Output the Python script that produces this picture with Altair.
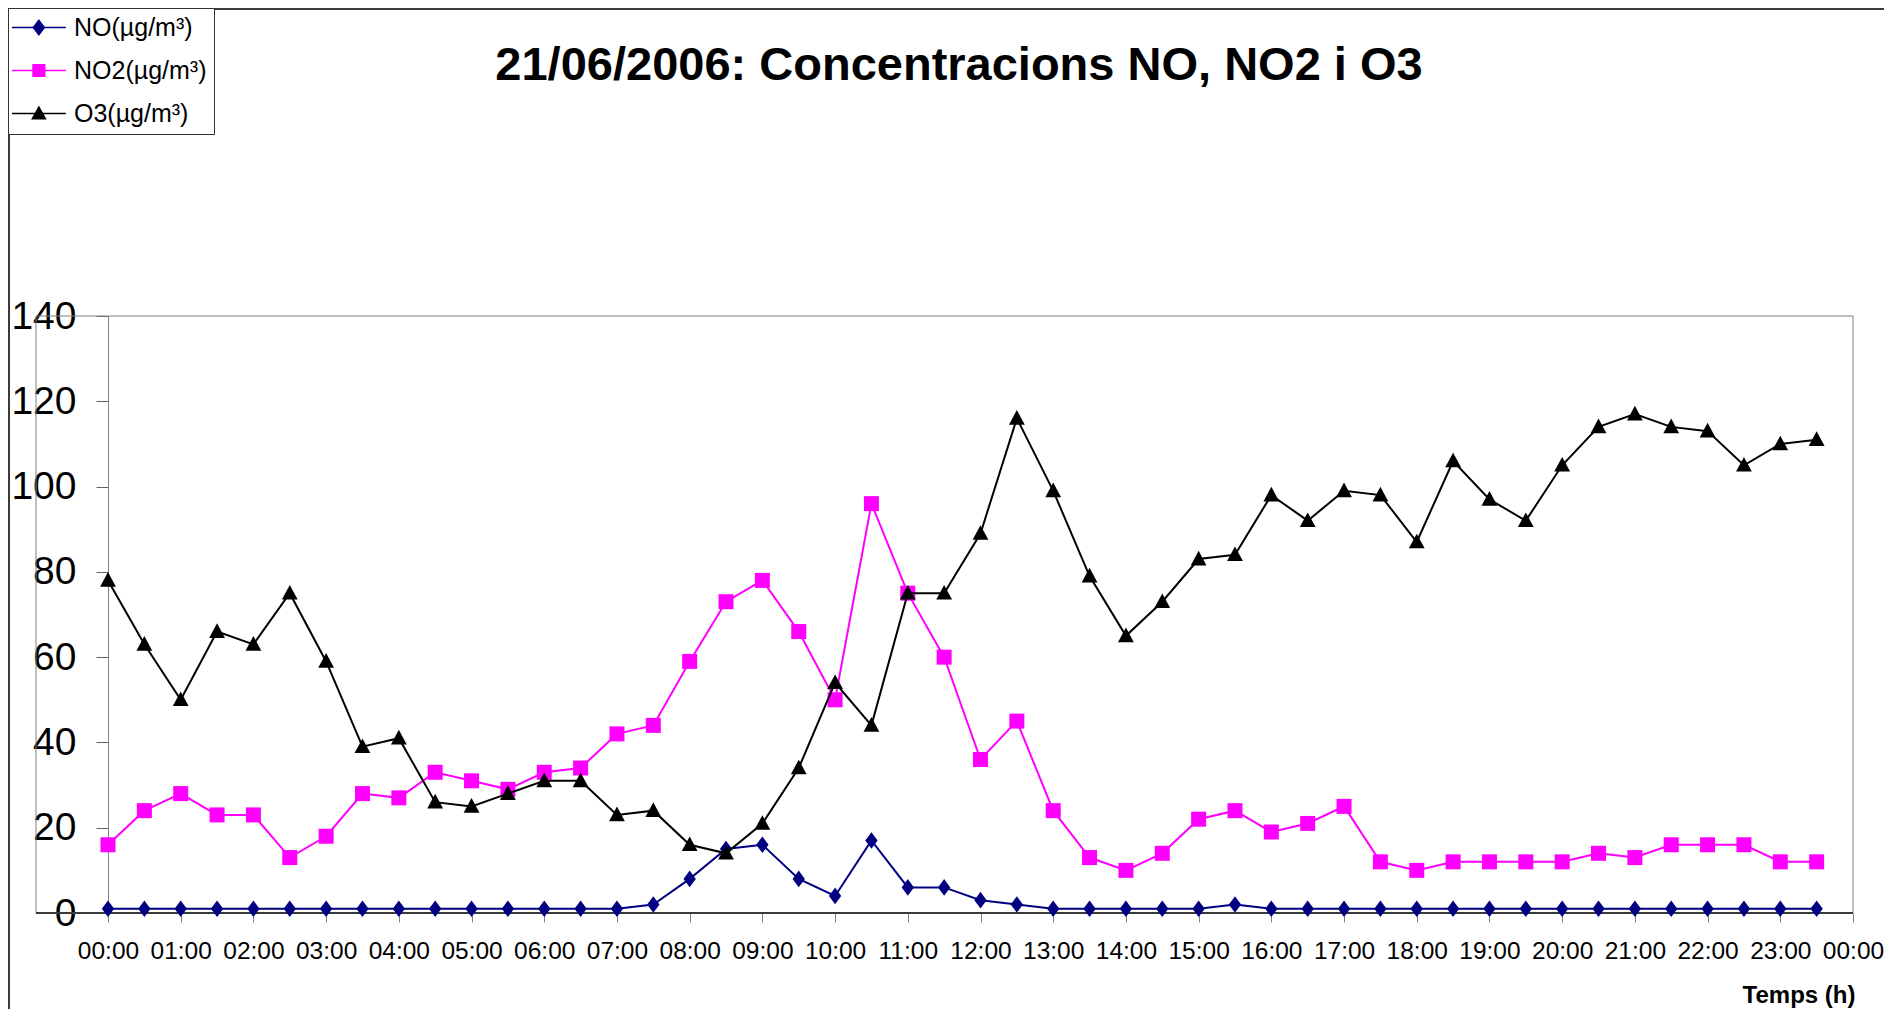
import json
import altair as alt
import pandas as pd

# ---------------- data ----------------
times = ["00:00", "00:30", "01:00", "01:30", "02:00", "02:30", "03:00", "03:30",
         "04:00", "04:30", "05:00", "05:30", "06:00", "06:30", "07:00", "07:30",
         "08:00", "08:30", "09:00", "09:30", "10:00", "10:30", "11:00", "11:30",
         "12:00", "12:30", "13:00", "13:30", "14:00", "14:30", "15:00", "15:30",
         "16:00", "16:30", "17:00", "17:30", "18:00", "18:30", "19:00", "19:30",
         "20:00", "20:30", "21:00", "21:30", "22:00", "22:30", "23:00", "23:30"]

no_vals = [1, 1, 1, 1, 1, 1, 1, 1, 1, 1, 1, 1, 1, 1, 1, 2,
           8, 15, 16, 8, 4, 17, 6, 6, 3, 2, 1, 1, 1, 1, 1, 2,
           1, 1, 1, 1, 1, 1, 1, 1, 1, 1, 1, 1, 1, 1, 1, 1]

no2_vals = [16, 24, 28, 23, 23, 13, 18, 28, 27, 33, 31, 29, 33, 34, 42, 44,
            59, 73, 78, 66, 50, 96, 75, 60, 36, 45, 24, 13, 10, 14, 22, 24,
            19, 21, 25, 12, 10, 12, 12, 12, 12, 14, 13, 16, 16, 16, 12, 12]

o3_vals = [78, 63, 50, 66, 63, 75, 59, 39, 41, 26, 25, 28, 31, 31, 23, 24,
           16, 14, 21, 34, 54, 44, 75, 75, 89, 116, 99, 79, 65, 73, 83, 84,
           98, 92, 99, 98, 87, 106, 97, 92, 105, 114, 117, 114, 113, 105, 110, 111]

series_names = ["NO(µg/m³)", "NO2(µg/m³)", "O3(µg/m³)"]
series_colors = ["#000080", "#FF00FF", "#000000"]

tick_hours = list(range(25))
tick_labels = ["00:00", "01:00", "02:00", "03:00", "04:00", "05:00", "06:00", "07:00",
               "08:00", "09:00", "10:00", "11:00", "12:00", "13:00", "14:00", "15:00",
               "16:00", "17:00", "18:00", "19:00", "20:00", "21:00", "22:00", "23:00",
               "00:00"]
y_ticks = [0, 20, 40, 60, 80, 100, 120, 140]

chart_title = "21/06/2006: Concentracions NO, NO2 i O3"
x_title = "Temps (h)"

rows = []
for name, vals in zip(series_names, [no_vals, no2_vals, o3_vals]):
    for t, v in zip(times, vals):
        rows.append({"time": t, "hour": int(t[:2]) + int(t[3:]) / 60.0,
                     "series": name, "value": v})
df = pd.DataFrame(rows)
deco = pd.DataFrame({"k": [0]})

# ---------------- layout ----------------
W, H = 1745, 597
PL, PT, PR, PB = 100, 308, 31, 96
FONT = "Liberation Sans"

x_enc = alt.X(
    "hour:Q",
    scale=alt.Scale(domain=[0, 24], nice=False, zero=False),
    axis=alt.Axis(
        values=tick_hours,
        labelExpr=json.dumps(tick_labels) + "[datum.value]",
        labelFont=FONT,
        labelFontSize=24.5,
        labelColor="black",
        labelBaseline="middle",
        labelPadding=29,
        labelOverlap=False,
        labelFlush=False,
        tickSize=9,
        tickColor="#808080",
        domain=False,
        grid=False,
        title=x_title,
        titleFont=FONT,
        titleFontSize=24,
        titleFontWeight="bold",
        titleColor="black",
        titleAlign="right",
        titleAnchor="end",
        titleX=W + 2,
        titleY=82,
        titleBaseline="middle",
    ),
)
y_enc = alt.Y(
    "value:Q",
    scale=alt.Scale(domain=[0, 140], nice=False),
    axis=alt.Axis(
        values=y_ticks,
        labelFont=FONT,
        labelFontSize=39,
        labelColor="black",
        labelPadding=20,
        tickSize=12,
        tickColor="#606060",
        domainColor="#808080",
        grid=False,
        title=None,
    ),
)

marker_paths = [
    "M0,-1.15L0.85,0L0,1.15L-0.85,0Z",         # diamond
    "M-1,-1H1V1H-1Z",                          # square
    "M0,-1.05L1,0.8L-1,0.8Z",                  # triangle
]
marker_sizes = [210, 225, 250]

# legend symbols: a line through the marker (unit = sqrt(size)/2 px)
ls = "M-2.4,0H5.9"
legend_paths = [
    ls + "M1.75,-1.1L2.6,0L1.75,1.1L0.9,0Z",
    ls + "M0.85,-0.9H2.65V0.9H0.85Z",
    ls + "M1.75,-1L2.75,0.8L0.75,0.8Z",
]

layers = []

# plot-area border and outer frame (decoration)
gray = "#808080"
layers.append(alt.Chart(deco).mark_rule(color=gray, strokeWidth=1).encode(
    x=alt.value(-72), x2=alt.value(W), y=alt.value(0)))
layers.append(alt.Chart(deco).mark_rule(color=gray, strokeWidth=1).encode(
    x=alt.value(-72), y=alt.value(0), y2=alt.value(H)))
layers.append(alt.Chart(deco).mark_rule(color=gray, strokeWidth=1).encode(
    x=alt.value(W), y=alt.value(0), y2=alt.value(H)))
layers.append(alt.Chart(deco).mark_rule(color="#3a3a3a", strokeWidth=2).encode(
    x=alt.value(-72), x2=alt.value(W), y=alt.value(H)))
layers.append(alt.Chart(deco).mark_rule(color="#3a3a3a", strokeWidth=2).encode(
    x=alt.value(-PL), x2=alt.value(W + PR), y=alt.value(-PT + 1)))
layers.append(alt.Chart(deco).mark_rule(color="#3a3a3a", strokeWidth=2).encode(
    x=alt.value(-PL + 1), y=alt.value(-PT), y2=alt.value(H + PB)))

# title as text
layers.append(alt.Chart(deco).mark_text(
    text=chart_title, font=FONT, fontSize=47, fontWeight="bold", color="black",
    align="center", baseline="middle").encode(
    x=alt.value(959 - 108), y=alt.value(66 - 316)))

# series
for name, col, path, size in zip(series_names, series_colors, marker_paths, marker_sizes):
    base = alt.Chart(df).transform_filter(alt.datum.series == name)
    layers.append(base.mark_line(color=col, strokeWidth=2).encode(
        x=x_enc, y=y_enc, order="hour:Q"))
    layers.append(base.mark_point(shape=path, filled=True, color=col, size=size,
                                  opacity=1, strokeWidth=0).encode(x=x_enc, y=y_enc))

# legend layer (invisible marks; carries the legend)
legend_def = alt.Legend(
    title=None, orient="none", legendX=-PL, legendY=-PT, direction="vertical",
    padding=7, labelFont=FONT, labelFontSize=25, labelColor="black",
    labelOffset=34, rowPadding=17, symbolSize=169, symbolStrokeWidth=1.5,
    symbolOpacity=1, strokeColor="#333333", fillColor="white", labelLimit=0,
)
layers.append(alt.Chart(df).mark_point(filled=True, opacity=0).encode(
    x=x_enc, y=y_enc,
    fill=alt.Fill("series:N", scale=alt.Scale(domain=series_names, range=series_colors),
                  legend=legend_def),
    stroke=alt.Stroke("series:N", scale=alt.Scale(domain=series_names, range=series_colors),
                      legend=legend_def),
    shape=alt.Shape("series:N", scale=alt.Scale(domain=series_names, range=legend_paths),
                    legend=legend_def),
))

chart = alt.layer(*layers).properties(
    width=W, height=H,
    autosize=alt.AutoSizeParams(type="none"),
    padding={"left": PL, "top": PT, "right": PR, "bottom": PB},
    background="white",
).configure_view(stroke=None)

chart.save("out.html", embed_options={"renderer": "svg", "actions": False})
